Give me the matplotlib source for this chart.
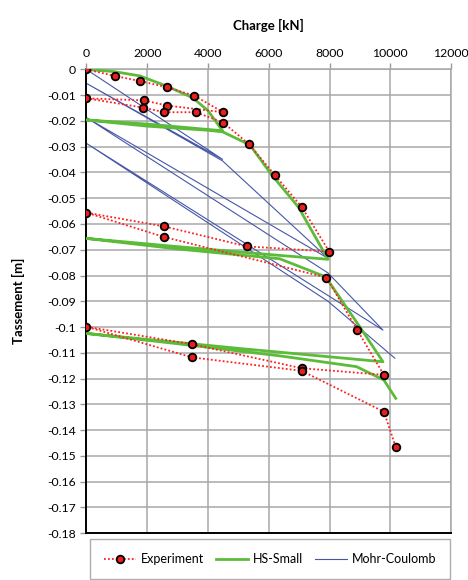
import matplotlib
matplotlib.use("Agg")
import matplotlib.pyplot as plt
from matplotlib.ticker import FuncFormatter

plt.rcParams["font.family"] = ["Lato", "DejaVu Sans"]

# experiment (load / unload cycles)
exp_load = [0, 940, 1760, 2650, 3550, 4500, 2650, 1890, 0, 1870, 2560, 3600, 4500,
            5350, 6200, 7080, 7990, 5280, 2540, 0, 2540, 7900, 8920, 9790,
            7080, 3480, 0, 3480, 7080, 9790, 10180]
exp_settle = [0, -0.0025, -0.0045, -0.0069, -0.0102, -0.0166, -0.0140, -0.0120, -0.0112,
              -0.0148, -0.0166, -0.0166, -0.0206, -0.0290, -0.0410, -0.0533, -0.0707,
              -0.0687, -0.0609, -0.0556, -0.0650, -0.0808, -0.1013, -0.1186,
              -0.1160, -0.1067, -0.0999, -0.1118, -0.1170, -0.1329, -0.1466]

# HS-Small model
hs_load = [0, 900, 1760, 2650, 3500, 4000, 4480, 2000, 0, 2000, 4000, 4480,
           5380, 6100, 6980, 7950, 6360, 3000, 0, 3000, 6360, 7870, 9000, 9760,
           5000, 0, 3000, 6360, 8890, 9790, 10180]
hs_settle = [0, -0.0008, -0.0025, -0.0065, -0.0110, -0.0160, -0.0238, -0.0212, -0.0196,
             -0.0220, -0.0236, -0.0242, -0.0293, -0.0410, -0.0535, -0.0737, -0.0722,
             -0.0688, -0.0656, -0.0697, -0.0735, -0.0805, -0.1000, -0.1135, -0.1083,
             -0.1025, -0.1065, -0.1112, -0.1154, -0.1206, -0.1277]

# Mohr-Coulomb model
mc_load = [0, 4480, 0, 4480, 7950, 0, 7950, 9760, 0, 7950, 10150]
mc_settle = [0, -0.0349, -0.0054, -0.0355, -0.0733, -0.0187, -0.0790, -0.1012,
             -0.0287, -0.0900, -0.1121]

fig = plt.figure(figsize=(4.68, 5.80), dpi=100)
ax = fig.add_axes([0.1848, 0.081, 0.7789, 0.7992])

ax.plot(exp_load, exp_settle, color="#ff2020", linestyle=(0, (1, 1.2)), linewidth=1.3,
        marker="o", markersize=5.5, markerfacecolor="#e8201c", markeredgecolor="black",
        markeredgewidth=1.3, label="Experiment", zorder=4)
ax.plot(hs_load, hs_settle, color="#5dbb3a", linewidth=2.0, label="HS-Small", zorder=3)
ax.plot(mc_load, mc_settle, color="#4657a8", linewidth=0.8, label="Mohr-Coulomb", zorder=2)

ax.set_xlim(0, 12000)
ax.set_ylim(-0.18, 0)
ax.set_xticks(range(0, 12001, 2000))
ax.set_yticks([-i / 100 for i in range(0, 19)])

def fmt(v, pos):
    v = round(v, 2)
    if v == 0:
        return "0"
    return "%g" % v

ax.yaxis.set_major_formatter(FuncFormatter(fmt))
ax.xaxis.tick_top()
ax.xaxis.set_label_position("top")
ax.set_xlabel("Charge [kN]", fontsize=9.5, fontweight="bold", labelpad=13)
ax.set_ylabel("Tassement [m]", fontsize=9.5, fontweight="bold", labelpad=16)
ax.tick_params(axis="both", labelsize=8.8, color="#999999", length=4, width=1)

ax.grid(True, color="#a8a8a8", linewidth=1.1)
ax.set_axisbelow(True)
for side in ["top", "right"]:
    ax.spines[side].set_color("#a8a8a8")
    ax.spines[side].set_linewidth(1.1)
for side in ["left", "bottom"]:
    ax.spines[side].set_color("black")
    ax.spines[side].set_linewidth(1.4)

leg = fig.legend(loc="center", bbox_to_anchor=(0.577, 0.036), ncol=3, fontsize=9,
                 frameon=True, fancybox=False, edgecolor="#999999", handlelength=2.6,
                 borderpad=1.1, handletextpad=0.4, columnspacing=0.9)
leg.get_frame().set_linewidth(1.0)

fig.savefig("out.png", dpi=100)
